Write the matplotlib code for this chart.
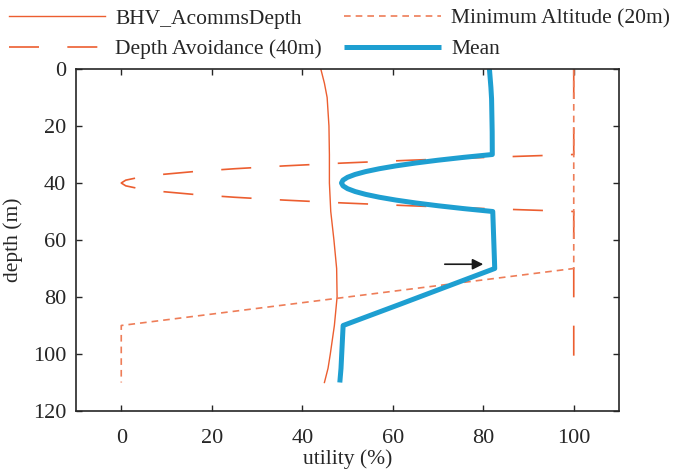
import numpy as np
import matplotlib
matplotlib.use("Agg")
import matplotlib.pyplot as plt

plt.rcParams["font.family"] = ["Liberation Serif", "DejaVu Serif"]

# --- data -------------------------------------------------------------
# BHV_AcommsDepth utility vs depth
acomms_depth = [0, 5, 10, 20, 30, 40, 50, 60, 70, 80, 90, 100, 105, 110]
acomms_util = [44.1, 44.9, 45.5, 45.9, 46.0, 46.0, 46.3, 47.0, 47.6, 47.7, 47.1, 46.2, 45.7, 44.9]

# Depth Avoidance (40m) utility vs depth
avoid_depth = [0, 30, 31, 32, 33, 34, 35, 36, 37, 38, 39, 40,
               41, 42, 43, 44, 45, 46, 47, 48, 49, 50, 110]
avoid_util = [100, 100, 81, 64, 49, 36, 25, 16, 9, 4, 1, 0,
              1, 4, 9, 16, 25, 36, 49, 64, 81, 100, 100]

# Minimum Altitude (20m) utility vs depth
alt_depth = [0, 70, 90, 110]
alt_util = [100, 100, 0, 0]

# Mean of the three behaviours on a common depth grid
mean_depth = np.arange(0, 110.01, 0.5)
mean_util = (np.interp(mean_depth, acomms_depth, acomms_util)
             + np.interp(mean_depth, avoid_depth, avoid_util)
             + np.interp(mean_depth, alt_depth, alt_util)) / 3.0

orange = "#EC5E30"
orange_light = "#EE7D58"
blue = "#1E9FD1"
ink = "#262626"

fig = plt.figure(figsize=(6.76, 4.74), dpi=100)
ax = fig.add_axes([76 / 676, 1 - 411 / 474, (619 - 76) / 676, (411 - 69) / 474])

l1, = ax.plot(acomms_util, acomms_depth, color=orange, lw=1.0, label="BHV_AcommsDepth")
l2, = ax.plot(avoid_util, avoid_depth, color=orange, lw=1.2, dashes=(18, 17),
              label="Depth Avoidance (40m)")
l3, = ax.plot(alt_util, alt_depth, color=orange_light, lw=1.2, dashes=(4, 3),
              label="Minimum Altitude (20m)")
l4, = ax.plot(mean_util, mean_depth, color=blue, lw=3.6, solid_joinstyle="round",
              solid_capstyle="butt", label="Mean")

ax.annotate("", xy=(80, 68.5), xytext=(71.5, 68.5),
            arrowprops=dict(arrowstyle="-|>", color="#1a1a1a", lw=1.2,
                            mutation_scale=16, shrinkA=0, shrinkB=0))

ax.set_xlim(-10, 110)
ax.set_ylim(120, 0)
ax.set_xticks([0, 20, 40, 60, 80, 100])
ax.set_yticks([0, 20, 40, 60, 80, 100, 120])
ax.tick_params(direction="in", top=True, right=True, length=4, width=1.0,
               color=ink, labelsize=16, labelcolor=ink)
ax.tick_params(axis="x", pad=13)
ax.tick_params(axis="y", pad=7)
for s in ax.spines.values():
    s.set_linewidth(1.2)
    s.set_color(ink)

ax.set_xlabel("utility (%)", fontsize=15.5, color=ink, labelpad=1)
ax.set_ylabel("depth (m)", fontsize=15.5, color=ink, labelpad=7)

fig.legend(handles=[l1, l2, l3, l4], ncol=2, loc="upper left",
           bbox_to_anchor=(-0.016, 1.023), frameon=False, fontsize=15.5,
           handlelength=4.5, handletextpad=0.45, columnspacing=1.05,
           labelspacing=0.5, labelcolor=ink)

fig.savefig("out.png", dpi=100)
